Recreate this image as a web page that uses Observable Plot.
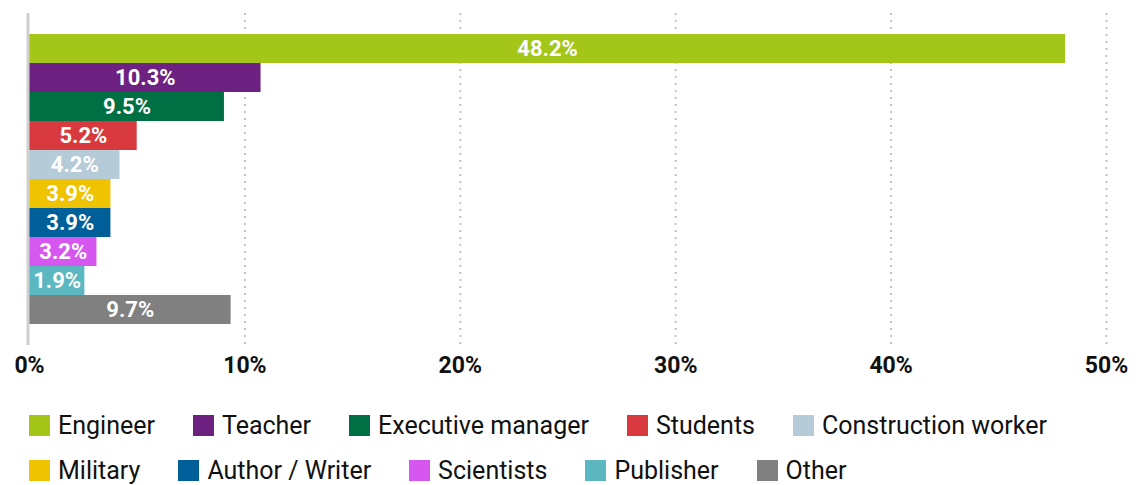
<!DOCTYPE html>
<html>
<head>
<meta charset="utf-8">
<script src="https://cdn.jsdelivr.net/npm/d3@7"></script>
<script src="https://cdn.jsdelivr.net/npm/@observablehq/plot@0.6"></script>
<style>
  body { margin: 0; background: #fff; font-family: Roboto, "Noto Sans", sans-serif; }
  #chart svg { display: block; }
  .legend { margin-left: 29px; margin-top: 18px; }
  .row { display: flex; align-items: center; height: 45px; font-size: 25px; color: #111; }
  .item { display: flex; align-items: center; margin-right: 38px; }
  .sw { width: 21px; height: 21px; margin-right: 8px; }
</style>
</head>
<body>
<div id="chart"></div>
<div class="legend" id="legend"></div>
<script>
const categories = ["Engineer", "Teacher", "Executive manager", "Students", "Construction worker", "Military", "Author / Writer", "Scientists", "Publisher", "Other"];
// bar lengths as drawn in the picture
const values = [48.1, 10.75, 9.05, 5.0, 4.2, 3.78, 3.78, 3.13, 2.57, 9.36];
// labels printed on the bars
const labels = ["48.2%", "10.3%", "9.5%", "5.2%", "4.2%", "3.9%", "3.9%", "3.2%", "1.9%", "9.7%"];
const colors = ["#a3c619", "#6d2180", "#006f44", "#d8393e", "#b6cbd8", "#efc300", "#005e98", "#d656f0", "#5bb8c1", "#808080"];
const xTicks = [0, 10, 20, 30, 40, 50];
const gridTicks = [10, 20, 30, 40, 50];
const legendRows = [categories.slice(0, 5), categories.slice(5)];

const data = categories.map((c, i) => ({category: c, value: values[i], label: labels[i]}));

const chart = Plot.plot({
  width: 1145,
  height: 385,
  marginLeft: 29,
  marginRight: 39,
  marginTop: 13,
  marginBottom: 40,
  style: {fontFamily: "Roboto, sans-serif"},
  x: {domain: [0, 50], label: null},
  y: {domain: categories, paddingInner: 0, paddingOuter: 0.6, axis: null},
  color: {domain: categories, range: colors},
  marks: [
    Plot.gridX(gridTicks, {stroke: "#c4c4c4", strokeOpacity: 1, strokeWidth: 2, strokeDasharray: "2,5"}),
    Plot.barX(data, {x: "value", y: "category", fill: "category"}),
    Plot.ruleX([0], {stroke: "#d0d0d0", strokeWidth: 3, dx: -1.5}),
    Plot.text(data, {x: d => d.value / 2, y: "category", text: "label", fill: "white", fontWeight: "bold", fontSize: 22}),
    Plot.axisX(xTicks, {tickSize: 0, tickPadding: 11, tickFormat: d => d + "%", fontSize: 23, fontWeight: "bold", fill: "#111", label: null})
  ]
});
document.getElementById("chart").appendChild(chart);

const legend = document.getElementById("legend");
legendRows.forEach(row => {
  const r = document.createElement("div");
  r.className = "row";
  row.forEach(name => {
    const it = document.createElement("div");
    it.className = "item";
    const sw = document.createElement("span");
    sw.className = "sw";
    sw.style.background = colors[categories.indexOf(name)];
    const t = document.createElement("span");
    t.textContent = name;
    it.appendChild(sw);
    it.appendChild(t);
    r.appendChild(it);
  });
  legend.appendChild(r);
});
</script>
</body>
</html>
